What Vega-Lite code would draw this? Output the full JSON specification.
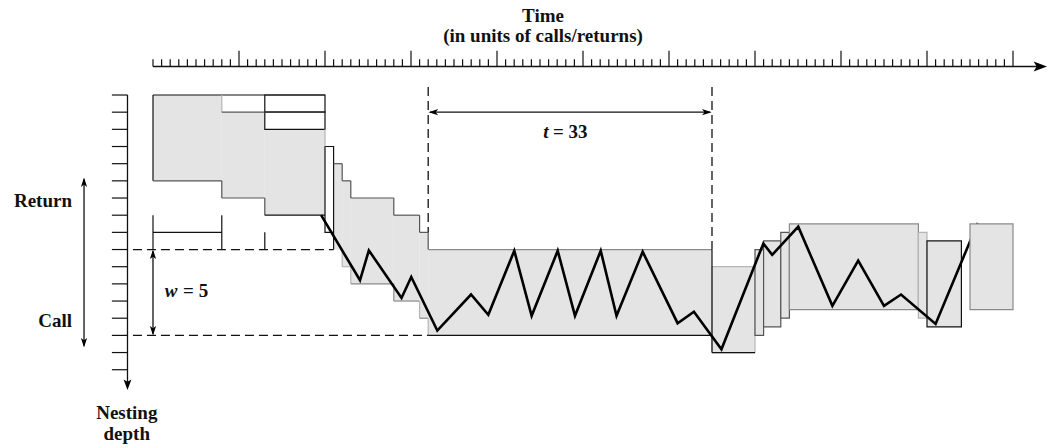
{
"$schema":"https://vega.github.io/schema/vega-lite/v6.json",
"width":1048,"height":448,"autosize":"none","padding":0,
"config":{"view":{"stroke":null},"text":{"font":"Liberation Serif","fontSize":19,"fontWeight":"bold","color":"#111"}},
"datasets":{
"rects":[
{"t1":0,"t2":8,"d1":0,"d2":5,"fill":"gray","edge":"none","z":"under"},
{"t1":8,"t2":13,"d1":1,"d2":6,"fill":"gray","edge":"none","z":"under"},
{"t1":13,"t2":20,"d1":2,"d2":7,"fill":"gray","edge":"none","z":"under"},
{"t1":8,"t2":13,"d1":0,"d2":1,"fill":"white","edge":"none","z":"under"},
{"t1":13,"t2":20,"d1":0,"d2":1,"fill":"white","edge":"black","z":"under"},
{"t1":13,"t2":20,"d1":1,"d2":2,"fill":"white","edge":"black","z":"under"},
{"t1":20,"t2":21,"d1":3,"d2":8,"fill":"white","edge":"black","z":"under"},
{"t1":21,"t2":22,"d1":4,"d2":9,"fill":"gray","edge":"none","z":"under"},
{"t1":22,"t2":23,"d1":5,"d2":10,"fill":"gray","edge":"none","z":"under"},
{"t1":23,"t2":28,"d1":6,"d2":11,"fill":"gray","edge":"none","z":"under"},
{"t1":28,"t2":31,"d1":7,"d2":12,"fill":"gray","edge":"none","z":"under"},
{"t1":31,"t2":32,"d1":8,"d2":13,"fill":"gray","edge":"none","z":"under"},
{"t1":32,"t2":65,"d1":9,"d2":14,"fill":"gray","edge":"none","z":"under"},
{"t1":65,"t2":70,"d1":10,"d2":15,"fill":"gray","edge":"light","z":"under"},
{"t1":70,"t2":71,"d1":9,"d2":14,"fill":"gray","edge":"dark","z":"under"},
{"t1":71,"t2":73,"d1":8.5,"d2":13.5,"fill":"gray","edge":"dark","z":"under"},
{"t1":73,"t2":74,"d1":8,"d2":13,"fill":"gray","edge":"dark","z":"under"},
{"t1":74,"t2":89,"d1":7.5,"d2":12.5,"fill":"gray","edge":"mid","z":"under"},
{"t1":89,"t2":90,"d1":8,"d2":13,"fill":"gray","edge":"light","z":"under"},
{"t1":90,"t2":94,"d1":8.5,"d2":13.5,"fill":"gray","edge":"black","z":"under"},
{"t1":95,"t2":100,"d1":7.5,"d2":12.5,"fill":"gray","edge":"mid","z":"over"}
],
"edges":[
{"t1":0,"t2":20,"d1":0,"d2":0,"edge":"black"},
{"t1":0,"t2":0,"d1":0,"d2":5,"edge":"black"},
{"t1":0,"t2":8,"d1":5,"d2":5,"edge":"dark"},
{"t1":8,"t2":8,"d1":5,"d2":6,"edge":"dark"},
{"t1":8,"t2":13,"d1":6,"d2":6,"edge":"dark"},
{"t1":13,"t2":13,"d1":6,"d2":7,"edge":"dark"},
{"t1":13,"t2":20,"d1":7,"d2":7,"edge":"black"},
{"t1":8,"t2":8,"d1":0,"d2":1,"edge":"light"},
{"t1":8,"t2":13,"d1":1,"d2":1,"edge":"dark"},
{"t1":20,"t2":20,"d1":2,"d2":3,"edge":"light"},
{"t1":0,"t2":0,"d1":7,"d2":9,"edge":"black"},
{"t1":8,"t2":8,"d1":7,"d2":9,"edge":"black"},
{"t1":13,"t2":13,"d1":8,"d2":9,"edge":"black"},
{"t1":0,"t2":8,"d1":8,"d2":8,"edge":"black"},
{"t1":21,"t2":21,"d1":4,"d2":9,"edge":"black"},
{"t1":21,"t2":22,"d1":4,"d2":4,"edge":"dark"},
{"t1":22,"t2":22,"d1":4,"d2":5,"edge":"dark"},
{"t1":22,"t2":23,"d1":5,"d2":5,"edge":"dark"},
{"t1":23,"t2":23,"d1":5,"d2":6,"edge":"dark"},
{"t1":23,"t2":28,"d1":6,"d2":6,"edge":"dark"},
{"t1":28,"t2":28,"d1":6,"d2":7,"edge":"dark"},
{"t1":28,"t2":31,"d1":7,"d2":7,"edge":"dark"},
{"t1":31,"t2":31,"d1":7,"d2":8,"edge":"dark"},
{"t1":31,"t2":32,"d1":8,"d2":8,"edge":"dark"},
{"t1":32,"t2":32,"d1":8,"d2":9,"edge":"dark"},
{"t1":32,"t2":65,"d1":9,"d2":9,"edge":"mid"},
{"t1":22,"t2":22,"d1":9,"d2":10,"edge":"light"},
{"t1":22,"t2":23,"d1":10,"d2":10,"edge":"light"},
{"t1":23,"t2":23,"d1":10,"d2":11,"edge":"light"},
{"t1":23,"t2":28,"d1":11,"d2":11,"edge":"mid"},
{"t1":28,"t2":28,"d1":11,"d2":12,"edge":"mid"},
{"t1":28,"t2":31,"d1":12,"d2":12,"edge":"mid"},
{"t1":31,"t2":31,"d1":12,"d2":13,"edge":"light"},
{"t1":31,"t2":32,"d1":13,"d2":13,"edge":"mid"},
{"t1":32,"t2":32,"d1":13,"d2":14,"edge":"light"},
{"t1":32,"t2":65,"d1":14,"d2":14,"edge":"black"},
{"t1":65,"t2":65,"d1":9,"d2":15,"edge":"black"},
{"t1":65,"t2":70,"d1":15,"d2":15,"edge":"black"}
],
"trace":[
{"i":1,"t":19.55,"d":7.0},{"i":2,"t":24.07,"d":10.79},{"i":3,"t":25.1,"d":9.05},{"i":4,"t":28.9,"d":11.82},
{"i":5,"t":30.03,"d":10.6},{"i":6,"t":33.06,"d":13.72},{"i":7,"t":36.98,"d":11.62},{"i":8,"t":38.99,"d":12.8},
{"i":9,"t":42.01,"d":9.07},{"i":10,"t":44.03,"d":12.86},{"i":11,"t":47.06,"d":9.07},{"i":12,"t":49.07,"d":12.86},
{"i":13,"t":52.06,"d":9.07},{"i":14,"t":53.9,"d":12.86},{"i":15,"t":56.94,"d":9.13},{"i":16,"t":61.0,"d":13.29},
{"i":17,"t":62.9,"d":12.62},{"i":18,"t":66.1,"d":14.81},{"i":19,"t":70.97,"d":8.65},{"i":20,"t":72.0,"d":9.31},
{"i":21,"t":75.03,"d":7.67},{"i":22,"t":79.0,"d":12.28},{"i":23,"t":82.0,"d":9.65},{"i":24,"t":85.0,"d":12.28},
{"i":25,"t":86.98,"d":11.62},{"i":26,"t":91.0,"d":13.33},{"i":27,"t":95.9,"d":7.45}
],
"dashes":[
{"t1":32,"t2":32,"d1":-0.47,"d2":8},
{"t1":65,"t2":65,"d1":-0.47,"d2":9},
{"t1":-2.33,"t2":21,"d1":9,"d2":9},
{"t1":-2.33,"t2":32,"d1":14,"d2":14}
],
"lines":[
{"t1":0,"t2":103.0,"d1":-1.66,"d2":-1.66},
{"t1":-2.965,"t2":-2.965,"d1":0,"d2":16.9},
{"t1":-8.02,"t2":-8.02,"d1":4.9,"d2":14.6},
{"t1":0,"t2":0,"d1":9.1,"d2":13.9},
{"t1":32.2,"t2":64.8,"d1":1,"d2":1}
],
"minor":[{"t":0},{"t":1},{"t":2},{"t":3},{"t":4},{"t":5},{"t":6},{"t":7},{"t":8},{"t":9},
{"t":11},{"t":12},{"t":13},{"t":14},{"t":15},{"t":16},{"t":17},{"t":18},{"t":19},
{"t":21},{"t":22},{"t":23},{"t":24},{"t":25},{"t":26},{"t":27},{"t":28},{"t":29},
{"t":31},{"t":32},{"t":33},{"t":34},{"t":35},{"t":36},{"t":37},{"t":38},{"t":39},
{"t":41},{"t":42},{"t":43},{"t":44},{"t":45},{"t":46},{"t":47},{"t":48},{"t":49},
{"t":51},{"t":52},{"t":53},{"t":54},{"t":55},{"t":56},{"t":57},{"t":58},{"t":59},
{"t":61},{"t":62},{"t":63},{"t":64},{"t":65},{"t":66},{"t":67},{"t":68},{"t":69},
{"t":71},{"t":72},{"t":73},{"t":74},{"t":75},{"t":76},{"t":77},{"t":78},{"t":79},
{"t":81},{"t":82},{"t":83},{"t":84},{"t":85},{"t":86},{"t":87},{"t":88},{"t":89},
{"t":91},{"t":92},{"t":93},{"t":94},{"t":95},{"t":96},{"t":97},{"t":98},{"t":99}],
"major":[{"t":10},{"t":20},{"t":30},{"t":40},{"t":50},{"t":60},{"t":70},{"t":80},{"t":90},{"t":100}],
"depthticks":[{"d":0},{"d":1},{"d":2},{"d":3},{"d":4},{"d":5},{"d":6},{"d":7},{"d":8},{"d":9},{"d":10},{"d":11},{"d":12},{"d":13},{"d":14},{"d":15},{"d":16}],
"heads":[
{"t":103.95,"d":-1.66,"dir":"right","kind":"big"},
{"t":-2.965,"d":17.18,"dir":"down","kind":"big"},
{"t":-8.02,"d":4.8,"dir":"up","kind":"small"},
{"t":-8.02,"d":14.7,"dir":"down","kind":"small"},
{"t":0,"d":9.0,"dir":"up","kind":"small"},
{"t":0,"d":14.0,"dir":"down","kind":"small"},
{"t":32.05,"d":1,"dir":"left","kind":"small"},
{"t":64.95,"d":1,"dir":"right","kind":"small"}
],
"labels":[
{"t":45.35,"d":-4.25,"label":"Time","pos":"center"},
{"t":45.35,"d":-3.08,"label":"(in units of calls/returns)","pos":"center"},
{"t":-9.42,"d":6.5,"label":"Return","pos":"right"},
{"t":-9.42,"d":13.5,"label":"Call","pos":"right"},
{"t":-3.05,"d":18.85,"label":"Nesting","pos":"center"},
{"t":-3.05,"d":20.1,"label":"depth","pos":"center"},
{"t":3.5,"d":11.75,"label":"= 5","pos":"left"},
{"t":46.5,"d":2.5,"label":"= 33","pos":"left"}
],
"italics":[
{"t":2.85,"d":11.75,"label":"w"},
{"t":46.0,"d":2.5,"label":"t"}
]
},
"layer":[
{"data":{"name":"rects"},"transform":[{"filter":"datum.z==='under'"}],
 "mark":{"type":"rect","strokeWidth":1.2},
 "encoding":{
  "x":{"field":"t1","type":"quantitative","scale":{"domain":[-17.79,104.07],"nice":false,"zero":false},"axis":null},
  "x2":{"field":"t2"},
  "y":{"field":"d1","type":"quantitative","scale":{"domain":[-5.533,20.559],"nice":false,"zero":false,"reverse":true},"axis":null},
  "y2":{"field":"d2"},
  "fill":{"field":"fill","type":"nominal","scale":{"domain":["gray","white"],"range":["#e4e4e4","#ffffff"]},"legend":null},
  "stroke":{"field":"edge","type":"nominal","scale":{"domain":["none","black","dark","mid","light"],"range":["transparent","#111111","#555555","#8a8a8a","#b5b5b5"]},"legend":null}
 }},
{"data":{"name":"edges"},
 "mark":{"type":"rule","strokeWidth":1.2},
 "encoding":{
  "x":{"field":"t1","type":"quantitative","axis":null},"x2":{"field":"t2"},
  "y":{"field":"d1","type":"quantitative","axis":null},"y2":{"field":"d2"},
  "stroke":{"field":"edge","type":"nominal","legend":null}
 }},
{"data":{"name":"trace"},
 "mark":{"type":"line","color":"#000000","strokeWidth":2.6,"strokeJoin":"miter","strokeMiterLimit":10},
 "encoding":{
  "x":{"field":"t","type":"quantitative","axis":null},
  "y":{"field":"d","type":"quantitative","axis":null},
  "order":{"field":"i","type":"quantitative"}
 }},
{"data":{"name":"rects"},"transform":[{"filter":"datum.z==='over'"}],
 "mark":{"type":"rect","strokeWidth":1.2},
 "encoding":{
  "x":{"field":"t1","type":"quantitative","axis":null},"x2":{"field":"t2"},
  "y":{"field":"d1","type":"quantitative","axis":null},"y2":{"field":"d2"},
  "fill":{"field":"fill","type":"nominal","legend":null},
  "stroke":{"field":"edge","type":"nominal","legend":null}
 }},
{"data":{"name":"dashes"},
 "mark":{"type":"rule","color":"#111111","strokeWidth":1.3,"strokeDash":[9,5]},
 "encoding":{
  "x":{"field":"t1","type":"quantitative","axis":null},"x2":{"field":"t2"},
  "y":{"field":"d1","type":"quantitative","axis":null},"y2":{"field":"d2"}
 }},
{"data":{"name":"lines"},
 "mark":{"type":"rule","color":"#111111","strokeWidth":1.3},
 "encoding":{
  "x":{"field":"t1","type":"quantitative","axis":null},"x2":{"field":"t2"},
  "y":{"field":"d1","type":"quantitative","axis":null},"y2":{"field":"d2"}
 }},
{"data":{"name":"minor"},
 "mark":{"type":"rule","color":"#111111","strokeWidth":1.2},
 "encoding":{
  "x":{"field":"t","type":"quantitative","axis":null},
  "y":{"datum":-1.66,"type":"quantitative","axis":null},"y2":{"datum":-2.08}
 }},
{"data":{"name":"major"},
 "mark":{"type":"rule","color":"#111111","strokeWidth":1.2},
 "encoding":{
  "x":{"field":"t","type":"quantitative","axis":null},
  "y":{"datum":-1.66,"type":"quantitative","axis":null},"y2":{"datum":-2.58}
 }},
{"data":{"name":"depthticks"},
 "mark":{"type":"rule","color":"#111111","strokeWidth":1.2},
 "encoding":{
  "y":{"field":"d","type":"quantitative","axis":null},
  "x":{"datum":-4.78,"type":"quantitative","axis":null},"x2":{"datum":-2.965}
 }},
{"data":{"name":"heads"},"transform":[{"filter":"datum.kind==='big' && datum.dir==='right'"}],
 "mark":{"type":"point","filled":true,"color":"#000000","opacity":1,"shape":"M0,0L-2,-0.75L-1.55,0L-2,0.75Z","size":177,"angle":0},
 "encoding":{"x":{"field":"t","type":"quantitative","axis":null},"y":{"field":"d","type":"quantitative","axis":null}}},
{"data":{"name":"heads"},"transform":[{"filter":"datum.kind==='big' && datum.dir==='down'"}],
 "mark":{"type":"point","filled":true,"color":"#000000","opacity":1,"shape":"M0,0L-2,-0.75L-1.55,0L-2,0.75Z","size":110,"angle":90},
 "encoding":{"x":{"field":"t","type":"quantitative","axis":null},"y":{"field":"d","type":"quantitative","axis":null}}},
{"data":{"name":"heads"},"transform":[{"filter":"datum.kind==='small' && datum.dir==='up'"}],
 "mark":{"type":"point","filled":true,"color":"#000000","opacity":1,"shape":"M0,0L-2,-0.65L-1.5,0L-2,0.65Z","size":90,"angle":270},
 "encoding":{"x":{"field":"t","type":"quantitative","axis":null},"y":{"field":"d","type":"quantitative","axis":null}}},
{"data":{"name":"heads"},"transform":[{"filter":"datum.kind==='small' && datum.dir==='down'"}],
 "mark":{"type":"point","filled":true,"color":"#000000","opacity":1,"shape":"M0,0L-2,-0.65L-1.5,0L-2,0.65Z","size":90,"angle":90},
 "encoding":{"x":{"field":"t","type":"quantitative","axis":null},"y":{"field":"d","type":"quantitative","axis":null}}},
{"data":{"name":"heads"},"transform":[{"filter":"datum.kind==='small' && datum.dir==='left'"}],
 "mark":{"type":"point","filled":true,"color":"#000000","opacity":1,"shape":"M0,0L-2,-0.65L-1.5,0L-2,0.65Z","size":90,"angle":180},
 "encoding":{"x":{"field":"t","type":"quantitative","axis":null},"y":{"field":"d","type":"quantitative","axis":null}}},
{"data":{"name":"heads"},"transform":[{"filter":"datum.kind==='small' && datum.dir==='right'"}],
 "mark":{"type":"point","filled":true,"color":"#000000","opacity":1,"shape":"M0,0L-2,-0.65L-1.5,0L-2,0.65Z","size":90,"angle":0},
 "encoding":{"x":{"field":"t","type":"quantitative","axis":null},"y":{"field":"d","type":"quantitative","axis":null}}},
{"data":{"name":"labels"},"transform":[{"filter":"datum.pos==='center'"}],
 "mark":{"type":"text","align":"center","baseline":"alphabetic"},
 "encoding":{"x":{"field":"t","type":"quantitative","axis":null},"y":{"field":"d","type":"quantitative","axis":null},"text":{"field":"label"}}},
{"data":{"name":"labels"},"transform":[{"filter":"datum.pos==='right'"}],
 "mark":{"type":"text","align":"right","baseline":"alphabetic"},
 "encoding":{"x":{"field":"t","type":"quantitative","axis":null},"y":{"field":"d","type":"quantitative","axis":null},"text":{"field":"label"}}},
{"data":{"name":"labels"},"transform":[{"filter":"datum.pos==='left'"}],
 "mark":{"type":"text","align":"left","baseline":"alphabetic"},
 "encoding":{"x":{"field":"t","type":"quantitative","axis":null},"y":{"field":"d","type":"quantitative","axis":null},"text":{"field":"label"}}},
{"data":{"name":"italics"},
 "mark":{"type":"text","align":"right","baseline":"alphabetic","fontStyle":"italic"},
 "encoding":{"x":{"field":"t","type":"quantitative","axis":null},"y":{"field":"d","type":"quantitative","axis":null},"text":{"field":"label"}}}
]
}
